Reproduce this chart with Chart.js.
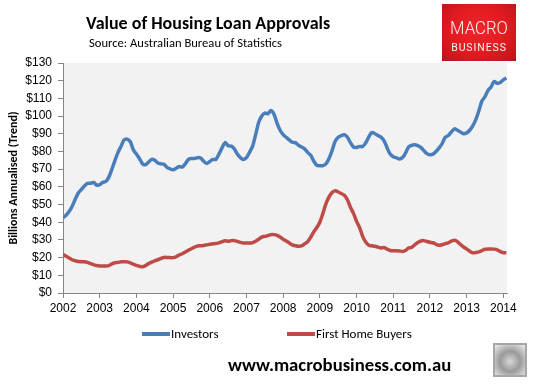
<!DOCTYPE html>
<html>
<head>
    <meta charset="utf-8">
    <title>Value of Housing Loan Approvals</title>
    <script src="https://cdn.jsdelivr.net/npm/chart.js"></script>
    <style>
        body { margin: 0; background: #fff; }
        #wrap { position: relative; width: 540px; height: 386px; overflow: hidden; font-family: Carlito, Lato, "Liberation Sans", sans-serif; }
        #canvas { position: absolute; left: 0; top: 0; }
        #title { position: absolute; left: 86px; top: 12px; font-size: 18px; font-weight: bold; color: #000; white-space: nowrap; }
        #source { position: absolute; left: 89px; top: 35px; font-size: 12.6px; color: #000; white-space: nowrap; }
        #logo { position: absolute; left: 442px; top: 4px; width: 74px; height: 57px;
            background: radial-gradient(ellipse at 50% 45%, #f0262b 0%, #e01b20 55%, #b8141a 100%); color: #fdf0f0; text-align: center; }
        #logo .m { font-family: Roboto, "DejaVu Sans", sans-serif; font-weight: 300; font-size: 19px; margin-top: 14px; line-height: 19px; transform: scaleX(0.88); }
        #logo .b { font-family: Roboto, "DejaVu Sans", sans-serif; font-size: 10.5px; margin-top: 4px; letter-spacing: 0.9px; }
        #legend { position: absolute; top: 326px; left: 0; width: 540px; height: 16px; }
        #legend .item { position: absolute; top: 0; font-size: 13px; line-height: 16px; color: #000; white-space: nowrap; }
        #legend .swatch { display: inline-block; width: 28px; height: 4px; vertical-align: middle; margin-right: 1px; position: relative; top: -1px; }
        #site { position: absolute; left: 228px; top: 353px; font-size: 18.7px; font-weight: bold; color: #000; white-space: nowrap; }
        #wolf { position: absolute; left: 493px; top: 343px; width: 34px; height: 34px; box-sizing: border-box; border: 2px solid #a6a6a6;
            background: radial-gradient(circle at 50% 55%, #d8d8d8 0%, #9a9a9a 45%, #c8c8c8 75%, #eeeeee 100%); }
    </style>
</head>
<body>
<div id="wrap">
    <canvas id="canvas" width="540" height="386"></canvas>
    <div id="title">Value of Housing Loan Approvals</div>
    <div id="source">Source: Australian Bureau of Statistics</div>
    <div id="logo"><div class="m">MACRO</div><div class="b">BUSINESS</div></div>
    <div id="legend"></div>
    <div id="site">www.macrobusiness.com.au</div>
    <div id="wolf"></div>
</div>
<script>
    // monthly trend series, Jan 2002 to Feb 2014 ($ billions annualised)
    var startYear = 2002;
    var years = [2002, 2003, 2004, 2005, 2006, 2007, 2008, 2009, 2010, 2011, 2012, 2013, 2014];
    var yTicks = [0, 10, 20, 30, 40, 50, 60, 70, 80, 90, 100, 110, 120, 130];
    var seriesNames = ["Investors", "First Home Buyers"];

    var investors = [
        42.5, 44, 46, 49, 53, 56.5, 58.5, 60.5, 62, 62, 62.5, 61,
        61.2, 62.5, 63, 65.5, 70, 75, 79.5, 83, 86.5, 87, 85.5, 81,
        78.5, 76, 73, 72.5, 74, 75.5, 75, 73.5, 73, 72.8, 71, 70.2,
        69.7, 70.5, 71.5, 71.2, 73, 75.5, 76, 76, 76.5, 76.3, 74.5, 73.2,
        74.3, 75.5, 75.5, 78.5, 82, 85, 83.2, 83, 81.5, 78.5, 76.5, 75.5,
        76.5, 79.5, 83, 89.5, 96.5, 100, 101.7, 101.3, 103.2, 101, 96, 92,
        89.5, 88, 86.5, 85.2, 85, 83.5, 82.5, 81.5, 79.5, 77.8, 74.5, 72.2,
        71.9, 72, 73, 76, 80.5, 85.7, 88, 88.9, 89.5, 88, 85, 82.5,
        82.3, 82.8, 82.8, 84.9, 88.2, 90.7, 90, 89, 88.1, 86, 82, 78.5,
        77, 76.5, 75.8, 76.5, 79, 82.5, 83.5, 83.8, 83.3, 82.3, 80.5, 78.8,
        78.2, 78.5, 80, 82, 84.5, 88, 89, 91, 92.8, 92, 91, 90,
        90.5, 92, 94.5, 98, 103, 108.5, 111, 114.5, 116.5, 119.5, 118.5, 119,
        120.5, 121.5
    ];

    var firstHome = [
        21.8, 20.8, 19.8, 18.8, 18.2, 17.8, 17.7, 17.7, 17.3, 16.6, 16, 15.5,
        15.3, 15.3, 15.3, 15.5, 16.5, 17.1, 17.3, 17.7, 17.7, 17.6, 17, 16.3,
        15.6, 15.1, 14.8, 15.5, 16.6, 17.5, 18.2, 18.8, 19.5, 20.1, 20.1, 20,
        20, 20.5, 21.5, 22.2, 23.2, 24.2, 25, 25.9, 26.6, 26.7, 26.9, 27.2,
        27.5, 27.8, 28, 28.3, 29, 29.6, 29.2, 29.6, 29.6, 29.2, 28.6, 28.2,
        28.3, 28.2, 28.5, 29.3, 30.4, 31.6, 32, 32.4, 33, 33, 32.6, 31.6,
        30.4, 29.4, 28.3, 27.2, 26.7, 26.4, 26.6, 27.8, 29, 31.5, 34.5, 37,
        40, 45, 50.5, 54.3, 56.8, 57.8, 57.1, 56.2, 55.2, 52.7, 48.5, 45,
        40.5, 37, 32, 28.8, 27, 26.7, 26.4, 25.9, 25.5, 25.7, 24.8, 24,
        23.9, 23.9, 23.8, 23.5, 24, 25.4, 25.8, 27.2, 28.5, 29.4, 29.6, 29.1,
        28.7, 28.4, 27.5, 27, 27.3, 27.9, 28.4, 29.3, 29.8, 29, 27.4, 26,
        24.9, 23.6, 22.7, 22.9, 23.2, 24, 24.7, 24.9, 24.9, 24.8, 24.4, 23.4,
        22.8, 22.8
    ];

    function toPoints(values) {
        return values.map(function (v, i) { return { x: startYear + i / 12, y: v }; });
    }

    var plotBg = {
        id: 'plotBg',
        beforeDraw: function (chart) {
            var a = chart.chartArea;
            chart.ctx.save();
            chart.ctx.fillStyle = '#f2f2f2';
            chart.ctx.fillRect(a.left, a.top, a.right - a.left, a.bottom - a.top);
            chart.ctx.restore();
        }
    };

    var axisFont = { family: "'Liberation Sans', Arial, sans-serif", size: 12 };

    var ctx = document.getElementById('canvas').getContext('2d');
    var chart = new Chart(ctx, {
        type: 'line',
        data: {
            datasets: [
                { label: seriesNames[0], data: toPoints(investors), borderColor: '#4a7ebb', backgroundColor: '#4a7ebb', borderWidth: 3.5, pointRadius: 0, tension: 0.3 },
                { label: seriesNames[1], data: toPoints(firstHome), borderColor: '#be4b48', backgroundColor: '#be4b48', borderWidth: 3.5, pointRadius: 0, tension: 0.3 }
            ]
        },
        options: {
            responsive: false,
            animation: false,
            layout: { padding: { left: 0, top: 63, right: 33, bottom: 68 } },
            plugins: { legend: { display: false }, tooltip: { enabled: false } },
            scales: {
                x: {
                    type: 'linear',
                    min: years[0],
                    max: years[years.length - 1] + 0.1,
                    afterFit: function (s) { s.height = 25; },
                    afterBuildTicks: function (s) { s.ticks = years.map(function (y) { return { value: y }; }); },
                    ticks: { font: axisFont, color: '#000', padding: 3, autoSkip: false, maxRotation: 0, callback: function (v) { return String(v); } },
                    grid: { drawOnChartArea: false, drawTicks: true, tickLength: 5, color: '#868686' },
                    border: { color: '#868686' }
                },
                y: {
                    min: 0,
                    max: 130,
                    afterFit: function (s) { s.width = 63; },
                    afterBuildTicks: function (s) { s.ticks = yTicks.map(function (v) { return { value: v }; }); },
                    ticks: { font: axisFont, color: '#000', padding: 6, callback: function (v) { return '$' + v; } },
                    grid: { drawOnChartArea: false, drawTicks: true, tickLength: 5, color: '#868686' },
                    border: { color: '#868686' },
                    title: {
                        display: true,
                        text: 'Billions Annualised (Trend)',
                        color: '#000',
                        font: { family: "Carlito, Lato, 'Liberation Sans', sans-serif", size: 12, weight: 'bold' },
                        padding: { top: 7, bottom: 0 }
                    }
                }
            }
        },
        plugins: [plotBg]
    });

    // legend built from the chart's own datasets
    var legend = document.getElementById('legend');
    var legendX = [142, 287];
    chart.data.datasets.forEach(function (ds, i) {
        var item = document.createElement('div');
        item.className = 'item';
        item.style.left = legendX[i] + 'px';
        item.innerHTML = '<span class="swatch" style="background:' + ds.borderColor + '"></span>' + ds.label;
        legend.appendChild(item);
    });
</script>
</body>
</html>
